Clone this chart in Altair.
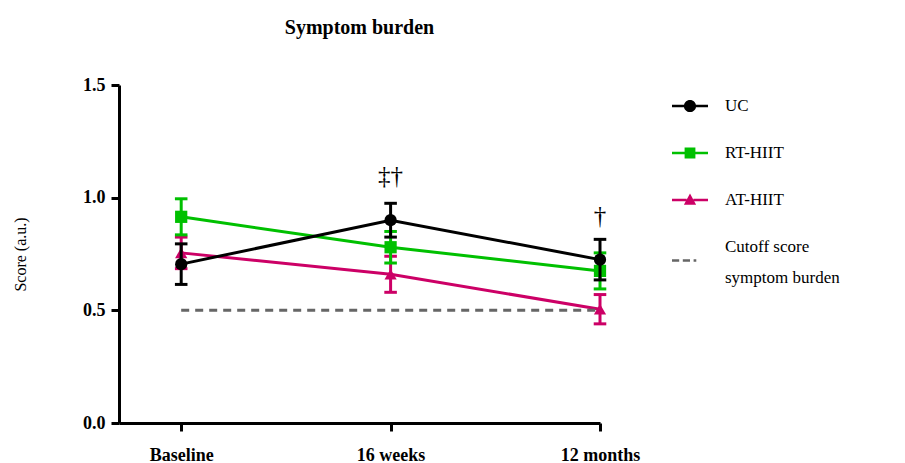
import altair as alt
import pandas as pd

# ---- data ----
timepoints = ["Baseline", "16 weeks", "12 months"]
series_names = ["UC", "RT-HIIT", "AT-HIIT"]
uc_mean = [0.705, 0.90, 0.725]
uc_err = [0.09, 0.075, 0.09]
rt_mean = [0.915, 0.78, 0.675]
rt_err = [0.08, 0.07, 0.08]
at_mean = [0.755, 0.66, 0.505]
at_err = [0.07, 0.08, 0.065]
cutoff_value = 0.5
cutoff_label = "Cutoff score symptom burden"
annot_text = ["‡†", "†"]
annot_time = [1, 2]
annot_y = [1.095, 0.92]

colors = ["#000000", "#00C000", "#CC0066", "#666666"]
legend_domain = series_names + [cutoff_label]

rows = []
for name, means, errs in [("AT-HIIT", at_mean, at_err), ("RT-HIIT", rt_mean, rt_err), ("UC", uc_mean, uc_err)]:
    for i, (m, e) in enumerate(zip(means, errs)):
        rows.append({"series": name, "t": i, "label": timepoints[i], "mean": m, "lo": m - e, "hi": m + e})
df = pd.DataFrame(rows)
cut_df = pd.DataFrame({"t": [0, 2], "y": [cutoff_value, cutoff_value]})
ann_df = pd.DataFrame({"t": annot_time, "y": annot_y, "text": annot_text})
leg_df = pd.DataFrame({"key": legend_domain})

FONT = "Liberation Serif"

xscale = alt.Scale(domain=[-0.297, 2.0], nice=False, zero=False)
yscale = alt.Scale(domain=[0, 1.5], nice=False)

label_expr = "datum.value == 0 ? 'Baseline' : datum.value == 1 ? '16 weeks' : '12 months'"
xaxis = alt.Axis(values=[0, 1, 2], labelExpr=label_expr, title=None, grid=False, labelFlush=False,
                 domainWidth=3, domainColor="black", tickWidth=3, tickColor="black", tickSize=8,
                 labelFont=FONT, labelFontSize=18, labelFontWeight="bold", labelColor="black",
                 labelPadding=15)
yaxis = alt.Axis(values=[0, 0.5, 1.0, 1.5], format=".1f", title="Score (a.u.)", grid=False,
                 domainWidth=3, domainColor="black", tickWidth=3, tickColor="black", tickSize=8,
                 labelFont=FONT, labelFontSize=18, labelFontWeight="bold", labelColor="black",
                 labelPadding=6, titleFont=FONT, titleFontSize=16, titleFontWeight="normal",
                 titlePadding=54, titleColor="black")

color_scale = alt.Scale(domain=legend_domain, range=colors)

Xq = alt.X("t:Q", scale=xscale)
C = alt.Color("series:N", scale=color_scale, legend=None)

base = alt.Chart(df)

lines = base.mark_line(strokeWidth=3).encode(
    x=alt.X("t:Q", scale=xscale, axis=xaxis), y=alt.Y("mean:Q", scale=yscale, axis=yaxis),
    color=C, detail="series:N", order="t:Q")

err = base.mark_rule(strokeWidth=3).encode(
    x=Xq, y=alt.Y("lo:Q", scale=yscale), y2="hi:Q", color=C)

caps = base.transform_calculate(a="datum.t - 0.03", b="datum.t + 0.03")
caps_lo = caps.mark_rule(strokeWidth=3).encode(
    x=alt.X("a:Q", scale=xscale), x2="b:Q", y=alt.Y("lo:Q", scale=yscale), color=C)
caps_hi = caps.mark_rule(strokeWidth=3).encode(
    x=alt.X("a:Q", scale=xscale), x2="b:Q", y=alt.Y("hi:Q", scale=yscale), color=C)

points = base.mark_point(filled=True, opacity=1, size=150).encode(
    x=Xq, y=alt.Y("mean:Q", scale=yscale), color=C,
    shape=alt.Shape("series:N", scale=alt.Scale(domain=series_names, range=["circle", "square", "triangle-up"]),
                    legend=None))

series_layers = []
for name in ["AT-HIIT", "RT-HIIT", "UC"]:
    f = alt.datum.series == name
    series_layers += [err.transform_filter(f), caps_lo.transform_filter(f), caps_hi.transform_filter(f),
                      points.transform_filter(f)]

cutoff = alt.Chart(cut_df).mark_line(strokeWidth=3, strokeDash=[8, 6], color="#666666").encode(
    x=Xq, y=alt.Y("y:Q", scale=yscale))

ann = alt.Chart(ann_df).mark_text(font=FONT, fontSize=25, color="black").encode(
    x=Xq, y=alt.Y("y:Q", scale=yscale), text="text:N")

# legend symbols: line with marker, built as custom paths in unit space
def seg(x0, x1, h=0.07, dy=0.0):
    return f"M{x0},{-h + dy}H{x1}V{h + dy}H{x0}Z"

r = 0.34
k = 0.5523 * r
circle = (f"M{r},0C{r},{k} {k},{r} 0,{r}C{-k},{r} {-r},{k} {-r},0"
          f"C{-r},{-k} {-k},{-r} 0,{-r}C{k},{-r} {r},{-k} {r},0Z")
sym_uc = seg(-1, -0.3) + seg(0.3, 1) + circle
sym_rt = seg(-1, -0.3) + seg(0.3, 1) + "M-0.3,-0.3H0.3V0.3H-0.3Z"
sym_at = seg(-1, -0.19) + seg(0.19, 1) + "M0,-0.36L0.34,0.26H-0.34Z"
sym_cut = seg(-1, -0.6, dy=0.75) + seg(-0.4, 0.0, dy=0.75) + seg(0.2, 0.35, dy=0.75)

leg_props = dict(title=None, orient="none", legendX=553, legendY=3, padding=0,
                 symbolSize=1296, symbolStrokeWidth=0, symbolOpacity=1, rowPadding=21, labelOffset=17,
                 labelFont=FONT, labelFontSize=17, labelColor="black", labelLimit=300,
                 labelExpr="datum.label == 'Cutoff score symptom burden' ? ['Cutoff score', 'symptom burden'] : datum.label")

legend_layer = alt.Chart(leg_df).transform_filter("false").mark_point(filled=True, opacity=1).encode(
    color=alt.Color("key:N", scale=color_scale, legend=alt.Legend(**leg_props)),
    shape=alt.Shape("key:N", scale=alt.Scale(domain=legend_domain, range=[sym_uc, sym_rt, sym_at, sym_cut]),
                    legend=alt.Legend(**leg_props)),
)

chart = alt.layer(lines, cutoff, *series_layers, ann, legend_layer).resolve_scale(
    shape="independent", color="independent"
).properties(
    width=481, height=338,
    title=alt.TitleParams("Symptom burden", font=FONT, fontSize=20, fontWeight="bold", color="black",
                          anchor="middle", offset=38),
    autosize=alt.AutoSizeParams(type="none"),
    padding={"left": 111, "top": 77, "right": 297, "bottom": 40},
).configure(style={"guide-label": {"lineHeight": 31}}, view={"stroke": None})

chart.save("out.html", embed_options={"renderer": "svg", "actions": False})
